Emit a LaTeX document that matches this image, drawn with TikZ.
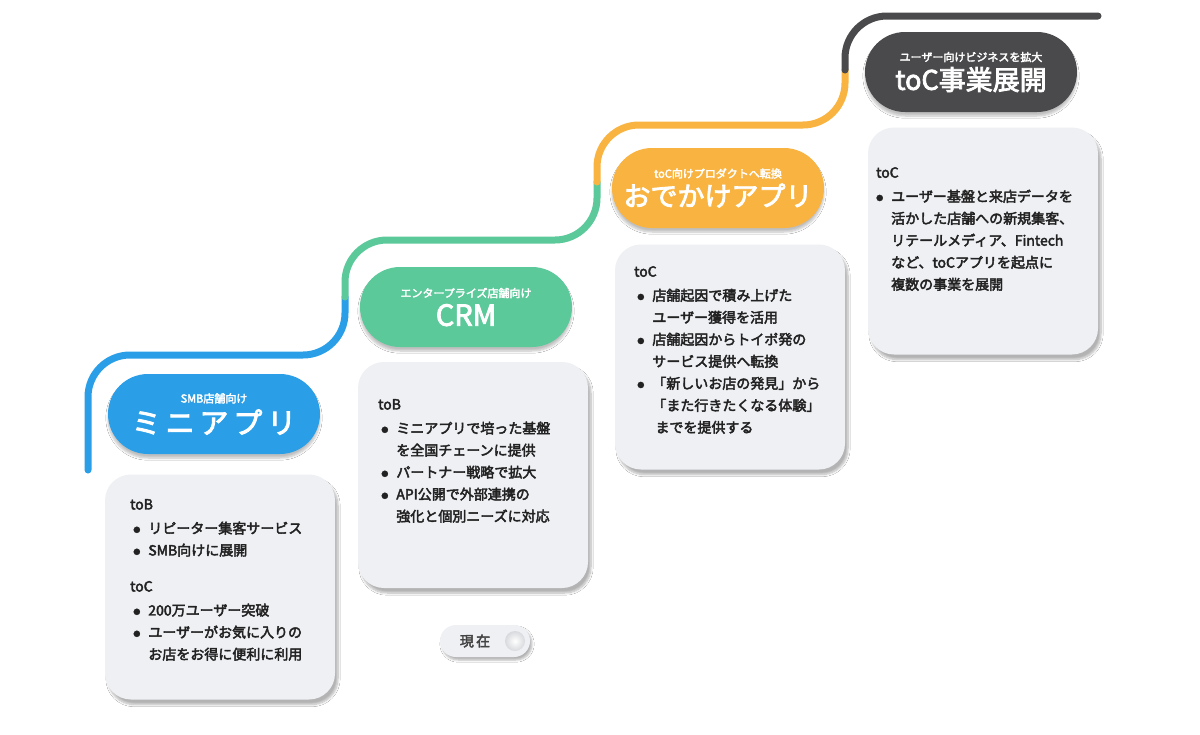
\documentclass[tikz,border=0pt]{standalone}
\usepackage{fontspec}
\setmainfont{Noto Sans CJK JP}[FakeBold=3]
\usetikzlibrary{shadows.blur}
\definecolor{cblue}{HTML}{2A9FE8}
\definecolor{cgreen}{HTML}{5CC99A}
\definecolor{cyellow}{HTML}{F9B340}
\definecolor{cgrey}{HTML}{4A4A4C}
\definecolor{cardbg}{HTML}{EEF0F4}
\definecolor{txt}{HTML}{222222}
\newcommand{\bl}{\makebox[15pt][l]{\raisebox{1pt}{\fontsize{7}{7}\selectfont ●}}}
\newcommand{\ct}{\hspace*{15pt}}
\begin{document}
\begin{tikzpicture}[x=1pt,y=-1pt,
  road/.style={line width=7pt,line cap=round,rounded corners=42pt},
  pill/.style={rounded corners=40pt,minimum width=212pt,minimum height=80pt,text=white,align=center,inner sep=0pt,blur shadow={shadow xshift=0pt,shadow yshift=-4pt,shadow blur steps=6,shadow opacity=25}},
  card/.style={rounded corners=26pt,fill=cardbg,minimum width=230pt,inner sep=0pt,blur shadow={shadow xshift=3pt,shadow yshift=-5pt,shadow blur steps=8,shadow opacity=30}},
  body/.style={anchor=north west,align=left,font=\fontsize{14}{22}\selectfont,text=txt,inner sep=0pt},
]
\useasboundingbox (0,0) rectangle (1200,734);
\fill[white] (0,0) rectangle (1200,734);
% road
\draw[road,cblue] (88,470) |- (345,355) -- (345,297);
\draw[road,cgreen] (345,297) |- (597,240) -- (597,182);
\draw[road,cyellow] (597,182) |- (845,125) -- (845,70);
\draw[road,cgrey] (845,70) |- (1098,16);
% pills
\node[pill,fill=cblue] (p1) at (214,414) {{\fontsize{11}{13}\selectfont SMB店舗向け}\\[5pt]{\fontsize{29}{30}\selectfont ミ\,ニ\,ア\,プ\,リ}};
\node[pill,fill=cgreen] (p2) at (466,307) {{\fontsize{11}{13}\selectfont エンタープライズ店舗向け}\\[5pt]{\fontsize{29}{30}\selectfont CRM}};
\node[pill,fill=cyellow] (p3) at (718,188) {{\fontsize{11}{13}\selectfont toC向けプロダクトへ転換}\\[4pt]{\fontsize{27}{28}\selectfont おでかけアプリ}};
\node[pill,fill=cgrey] (p4) at (971,72) {{\fontsize{11}{13}\selectfont ユーザー向けビジネスを拡大}\\[4pt]{\fontsize{27}{28}\selectfont toC事業展開}};
% cards
\node[card,minimum height=225pt] (c1) at (220,587) {};
\node[card,minimum height=226pt] (c2) at (473,475) {};
\node[card,minimum height=225pt] (c3) at (730,357) {};
\node[card,minimum height=227pt] (c4) at (983,241) {};
\node[body] (t1) at (130,499) {toB\\[2pt]
\ \bl リピーター集客サービス\\
\ \bl SMB向けに展開\\[14pt]
toC\\[2pt]
\ \bl 200万ユーザー突破\\
\ \bl ユーザーがお気に入りの\\
\ \ct お店をお得に便利に利用};
\node[body] (t2) at (378,399) {toB\\[2pt]
\ \bl ミニアプリで培った基盤\\
\ \ct を全国チェーンに提供\\
\ \bl パートナー戦略で拡大\\
\ \bl API公開で外部連携の\\
\ \ct 強化と個別ニーズに対応};
\node[body] (t3) at (634,266) {toC\\[2pt]
\ \bl 店舗起因で積み上げた\\
\ \ct ユーザー獲得を活用\\
\ \bl 店舗起因からトイポ発の\\
\ \ct サービス提供へ転換\\
\ \bl 「新しいお店の発見」から\\
\ \ct 「また行きたくなる体験」\\
\ \ct\ までを提供する};
\node[body] (t4) at (876,167) {toC\\[2pt]
\bl ユーザー基盤と来店データを\\
\ct 活かした店舗への新規集客、\\
\ct リテールメディア、Fintech\\
\ct など、toCアプリを起点に\\
\ct 複数の事業を展開};
% now toggle
\node[rounded corners=16pt,fill=cardbg,minimum width=90pt,minimum height=32pt,blur shadow={shadow xshift=2pt,shadow yshift=-3pt,shadow blur steps=5,shadow opacity=30}] (now) at (485,641) {};
\node[font=\fontsize{14}{16}\selectfont,text=txt!85] (nowt) at (475,641) {現\,在};
\shade[inner color=white,outer color=cardbg!80!gray] (515,641) circle (10pt);
\end{tikzpicture}
\end{document}
